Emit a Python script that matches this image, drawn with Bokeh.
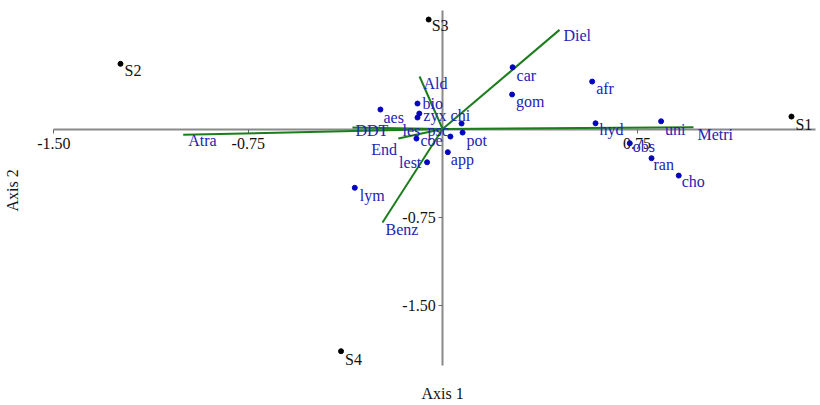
from bokeh.plotting import figure
from bokeh.models import (LinearAxis, FixedTicker, Range1d, ColumnDataSource,
                          Label, LabelSet, NumeralTickFormatter)
from bokeh.embed import file_html
from bokeh.resources import INLINE

# ---- data ----
sample_names = ["S1", "S2", "S3", "S4"]
sample_x = [1.346, -1.243, -0.054, -0.392]
sample_y = [0.106, 0.555, 0.932, -1.891]

species_names = ["car", "gom", "afr", "hyd", "uni", "obs", "ran", "cho",
                 "aes", "bio", "zyx", "les", "chi", "pot", "psc", "coe",
                 "app", "lest", "lym"]
species_x = [0.270, 0.268, 0.577, 0.590, 0.843, 0.722, 0.806, 0.911,
             -0.240, -0.097, -0.090, -0.097, 0.073, 0.077, 0.030, -0.101,
             0.020, -0.060, -0.339]
species_y = [0.526, 0.294, 0.404, 0.049, 0.066, -0.121, -0.248, -0.396,
             0.166, 0.217, 0.132, 0.098, 0.047, -0.030, -0.064, -0.081,
             -0.197, -0.283, -0.500]

vector_names = ["Diel", "Metri", "Atra", "Benz", "Ald", "End", "DDT"]
vector_x = [0.451, 0.968, -1.001, -0.232, -0.089, -0.171, -0.348]
vector_y = [0.844, 0.015, -0.049, -0.796, 0.447, -0.081, 0.013]

x_ticks = [-1.50, -0.75, 0.75]
y_ticks = [-1.50, -0.75]

# ---- label placement (pixel offsets right / down) ----
sample_dx = [4, 4, 3, 4]
sample_dy = [8, 7, 6, 8]
species_dx = [4, 4, 4, 4, 4, 3, 2, 3, 3, 5, 4, -15, -11, 4, -23, 4, 3, -28, 5]
species_dy = [8, 7, 7, 6, 8, 3, 6, 6, 8, 0, 2, 13, -8, 8, -6, 2, 7, 0, 8]
vector_dx = [4, 4, 5, 3, 4, -27, 3]
vector_dy = [6, 7, 6, 7, 7, 11, 3]

SERIF = "Liberation Serif"
BLUE_TXT = "#2323b4"
BLUE_DOT = "#0505c0"
GREEN = "#1b7d1b"

p = figure(width=820, height=405,
           x_range=Range1d(-1.706, 1.458), y_range=Range1d(-2.353, 1.094),
           output_backend="svg", toolbar_location=None,
           x_axis_location=None, y_axis_location=None,
           min_border=0, outline_line_color=None)
p.xgrid.grid_line_color = None
p.ygrid.grid_line_color = None

fmt = NumeralTickFormatter(format="0.00")
xaxis = LinearAxis(fixed_location=0, ticker=FixedTicker(ticks=x_ticks),
                   formatter=fmt, bounds=(-1.5, 1.44),
                   axis_line_color="#8a8a8a", axis_line_width=2,
                   major_tick_out=4, major_tick_in=0,
                   major_tick_line_color="#666666", minor_tick_line_color=None,
                   major_label_text_font=SERIF, major_label_text_font_size="16px",
                   major_label_text_color="#111111", major_label_standoff=5)
xaxis.level = "underlay"
p.add_layout(xaxis, "below")

yaxis = LinearAxis(fixed_location=0, ticker=FixedTicker(ticks=y_ticks),
                   formatter=fmt, bounds=(-2.01, 1.01),
                   axis_line_color="#8a8a8a", axis_line_width=2,
                   major_tick_out=4, major_tick_in=0,
                   major_tick_line_color="#666666", minor_tick_line_color=None,
                   major_label_text_font=SERIF, major_label_text_font_size="16px",
                   major_label_text_color="#111111", major_label_standoff=3)
yaxis.level = "underlay"
p.add_layout(yaxis, "left")

# vectors
vsrc = ColumnDataSource(dict(x0=[0.0] * len(vector_x), y0=[0.0] * len(vector_y),
                             x=vector_x, y=vector_y, name=vector_names,
                             dx=vector_dx, dy=[-d for d in vector_dy]))
p.segment(x0="x0", y0="y0", x1="x", y1="y", source=vsrc,
          line_color=GREEN, line_width=2)
p.add_layout(LabelSet(x="x", y="y", text="name", source=vsrc,
                      x_offset="dx", y_offset="dy",
                      text_font=SERIF, text_font_size="16px",
                      text_color=BLUE_TXT, text_baseline="middle"))

# species
ssrc = ColumnDataSource(dict(x=species_x, y=species_y, name=species_names,
                             dx=species_dx, dy=[-d for d in species_dy]))
p.scatter(x="x", y="y", source=ssrc, size=5, color=BLUE_DOT)
p.add_layout(LabelSet(x="x", y="y", text="name", source=ssrc,
                      x_offset="dx", y_offset="dy",
                      text_font=SERIF, text_font_size="16px",
                      text_color=BLUE_TXT, text_baseline="middle"))

# samples
psrc = ColumnDataSource(dict(x=sample_x, y=sample_y, name=sample_names,
                             dx=sample_dx, dy=[-d for d in sample_dy]))
p.scatter(x="x", y="y", source=psrc, size=5, color="black")
p.add_layout(LabelSet(x="x", y="y", text="name", source=psrc,
                      x_offset="dx", y_offset="dy",
                      text_font=SERIF, text_font_size="16px",
                      text_color="#111111", text_baseline="middle"))

# axis titles
p.add_layout(Label(x=0.0, y=-2.255, text="Axis 1", text_font=SERIF,
                   text_font_size="16px", text_color="#111111",
                   text_align="center", text_baseline="middle"))
p.add_layout(Label(x=-1.66, y=-0.523, text="Axis 2", text_font=SERIF,
                   text_font_size="16px", text_color="#111111", angle=1.5708,
                   text_align="center", text_baseline="middle"))

open("out.html", "w").write(file_html(p, INLINE))
